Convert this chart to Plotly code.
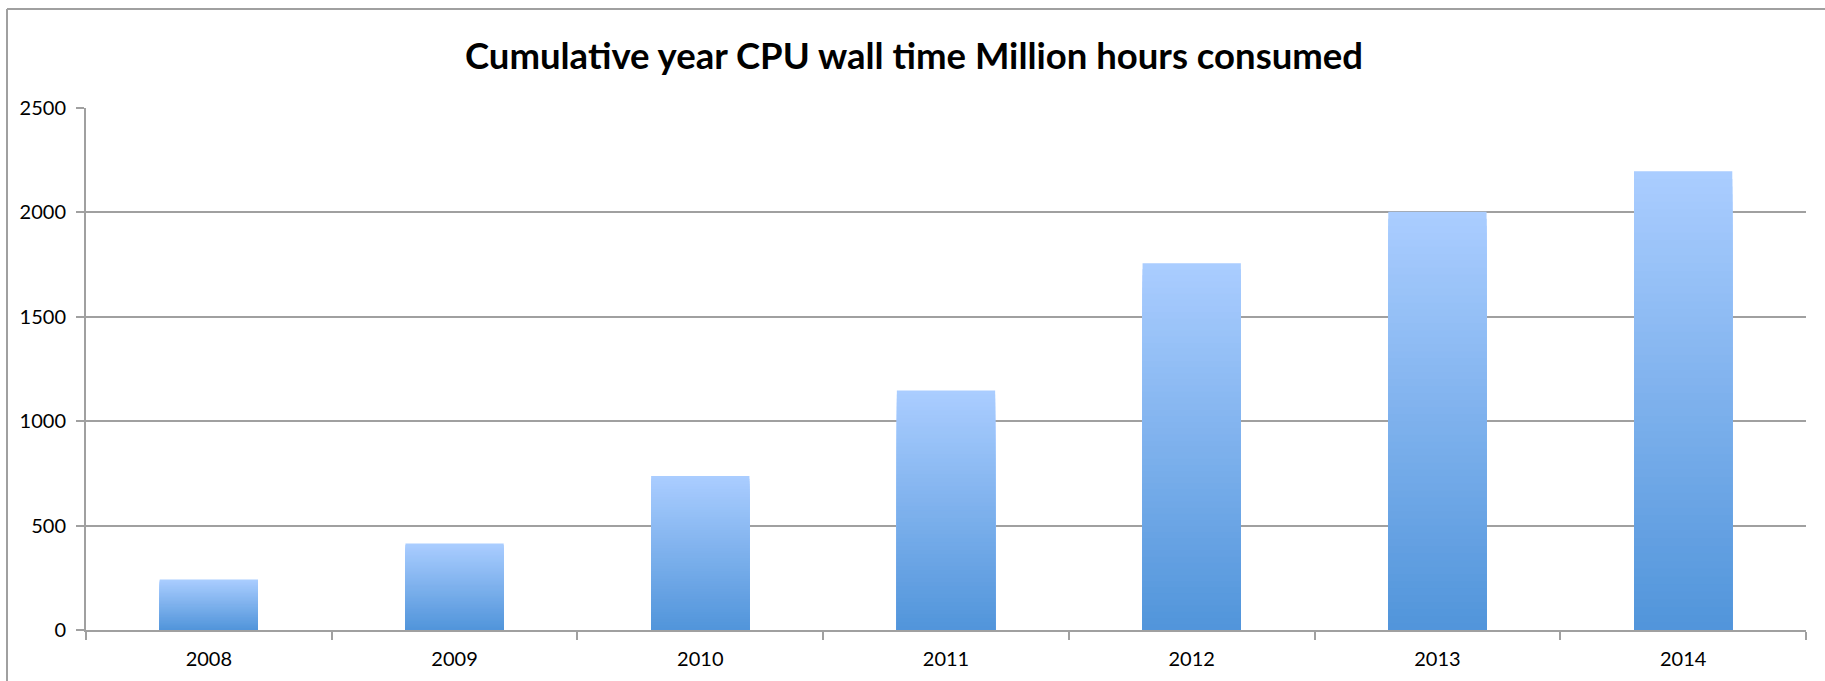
import plotly.graph_objects as go

years = ["2008", "2009", "2010", "2011", "2012", "2013", "2014"]
hours = [242, 414, 737, 1147, 1757, 2003, 2197]
title_text = "Cumulative year CPU wall time Million hours consumed"

W, H = 1825, 681
L, R, T, B = 86, 19, 108, 51

top_rgb = (170, 205, 255)
bot_rgb = (80, 148, 218)
N = 60

fig = go.Figure()
for i in range(N):
    frac = (N - i) / N
    c = tuple(round(b + (t - b) * frac) for t, b in zip(top_rgb, bot_rgb))
    fig.add_trace(go.Bar(
        x=years, y=[v * frac for v in hours],
        marker=dict(color="rgb(%d,%d,%d)" % c, line=dict(width=0)),
        width=0.4, showlegend=False, hoverinfo="skip" if i else None,
    ))

pw = W - L - R
ph = H - T - B
fx0 = (7 - L) / pw
fy1 = 1 + (T - 9) / ph
fig.add_shape(type="line", xref="paper", yref="paper",
              x0=fx0, x1=(W - L) / pw, y0=fy1, y1=fy1,
              line=dict(color="#a0a0a0", width=2), layer="below")
fig.add_shape(type="line", xref="paper", yref="paper",
              x0=fx0, x1=fx0, y0=fy1, y1=-B / ph,
              line=dict(color="#a0a0a0", width=2), layer="below")

fig.update_layout(
    width=W, height=H,
    margin=dict(l=L, r=R, t=T, b=B),
    barmode="overlay",
    plot_bgcolor="white", paper_bgcolor="white",
    font=dict(family="Lato, 'Open Sans', sans-serif", size=20, color="#000"),
    title=dict(text="<b>%s</b>" % title_text, x=(914 - L) / pw, xref="paper", xanchor="center",
               y=1 - 56 / H, yanchor="middle",
               font=dict(size=36.5, family="Lato, 'Open Sans', sans-serif", color="#000")),
    showlegend=False,
)
fig.update_xaxes(type="category", showgrid=False, showline=True, linecolor="#a0a0a0",
                 linewidth=2, ticks="outside", tickson="boundaries", ticklen=8,
                 tickcolor="#a0a0a0", tickwidth=2, tickfont=dict(size=20),
                 ticklabelstandoff=10)
fig.update_yaxes(range=[0, 2500], tickvals=[0, 500, 1000, 1500, 2000, 2500],
                 showgrid=True, gridcolor="#a0a0a0", gridwidth=2,
                 showline=True, linecolor="#a0a0a0", linewidth=2,
                 ticks="outside", ticklen=8, tickcolor="#a0a0a0", tickwidth=2,
                 zeroline=False, tickfont=dict(size=20), ticklabelstandoff=6)

fig.write_html(
    "out.html",
    post_script="document.body.style.margin='0';document.documentElement.style.overflow='hidden';",
)
